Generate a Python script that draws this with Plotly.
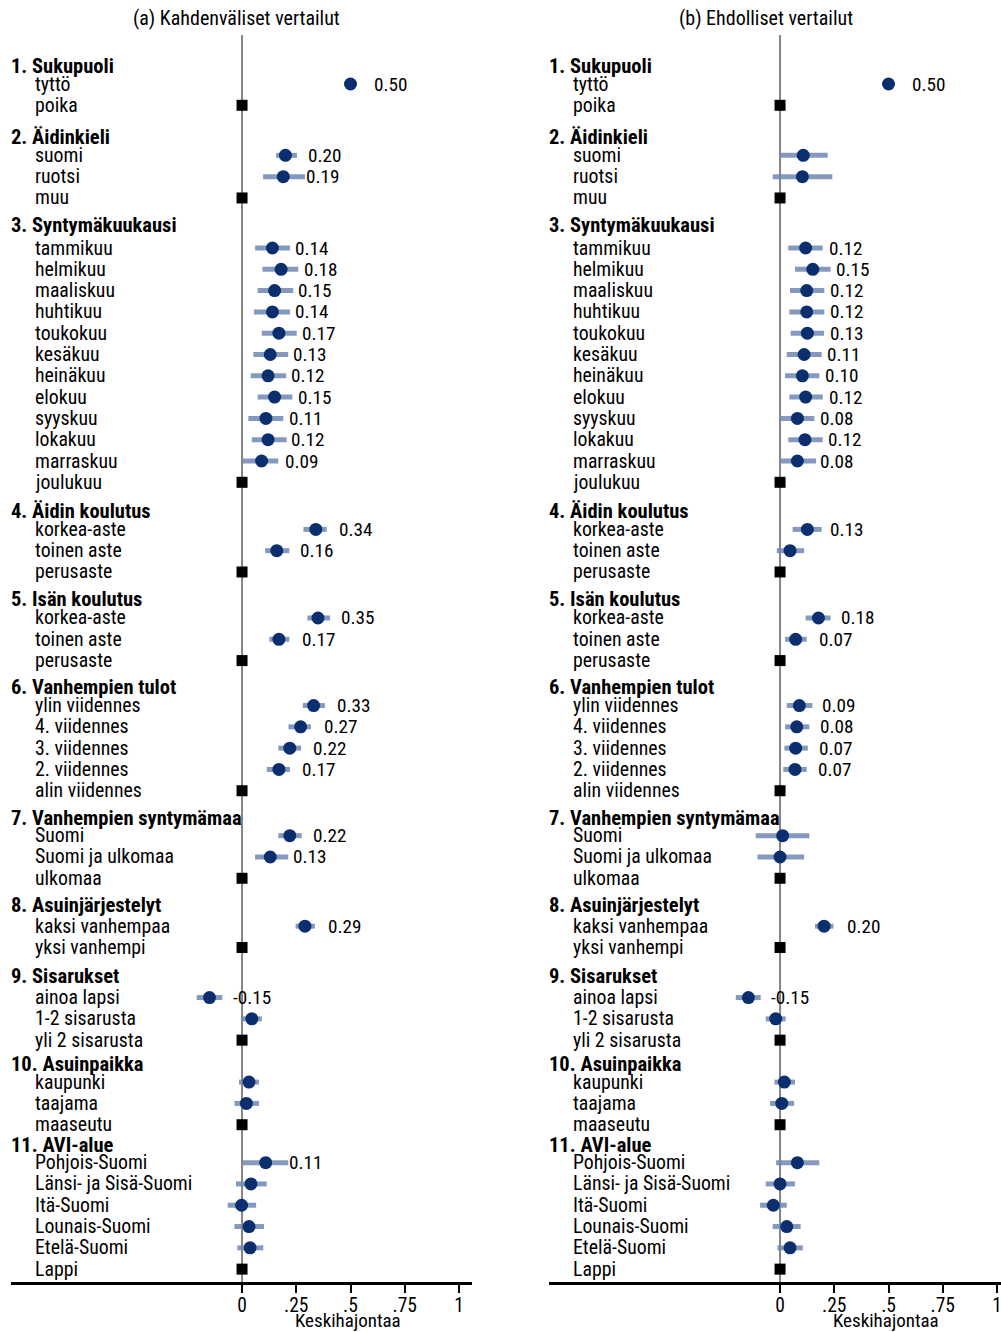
import plotly.graph_objects as go

# ---------------- data ----------------
groups = ["1. Sukupuoli", "2. Äidinkieli", "3. Syntymäkuukausi", "4. Äidin koulutus",
          "5. Isän koulutus", "6. Vanhempien tulot", "7. Vanhempien syntymämaa",
          "8. Asuinjärjestelyt", "9. Sisarukset", "10. Asuinpaikka", "11. AVI-alue"]

items = [
    ["tyttö", "poika"],
    ["suomi", "ruotsi", "muu"],
    ["tammikuu", "helmikuu", "maaliskuu", "huhtikuu", "toukokuu", "kesäkuu",
     "heinäkuu", "elokuu", "syyskuu", "lokakuu", "marraskuu", "joulukuu"],
    ["korkea-aste", "toinen aste", "perusaste"],
    ["korkea-aste", "toinen aste", "perusaste"],
    ["ylin viidennes", "4. viidennes", "3. viidennes", "2. viidennes", "alin viidennes"],
    ["Suomi", "Suomi ja ulkomaa", "ulkomaa"],
    ["kaksi vanhempaa", "yksi vanhempi"],
    ["ainoa lapsi", "1-2 sisarusta", "yli 2 sisarusta"],
    ["kaupunki", "taajama", "maaseutu"],
    ["Pohjois-Suomi", "Länsi- ja Sisä-Suomi", "Itä-Suomi", "Lounais-Suomi", "Etelä-Suomi", "Lappi"],
]

# None = reference category
est_a = [
    [0.50, None],
    [0.20, 0.19, None],
    [0.14, 0.18, 0.15, 0.14, 0.17, 0.13, 0.12, 0.15, 0.11, 0.12, 0.09, None],
    [0.34, 0.16, None],
    [0.35, 0.17, None],
    [0.33, 0.27, 0.22, 0.17, None],
    [0.22, 0.13, None],
    [0.29, None],
    [-0.15, 0.045, None],
    [0.032, 0.020, None],
    [0.109, 0.041, -0.002, 0.032, 0.037, None],
]
lo_a = [
    [0.49, None],
    [0.157, 0.097, None],
    [0.060, 0.094, 0.072, 0.055, 0.091, 0.052, 0.040, 0.072, 0.029, 0.045, 0.003, None],
    [0.283, 0.106, None],
    [0.301, 0.126, None],
    [0.280, 0.214, 0.167, 0.114, None],
    [0.167, 0.060, None],
    [0.247, None],
    [-0.209, -0.005, None],
    [-0.014, -0.035, None],
    [0.003, -0.028, -0.066, -0.035, -0.022, None],
]
hi_a = [
    [0.51, None],
    [0.253, 0.290, None],
    [0.221, 0.259, 0.236, 0.221, 0.252, 0.213, 0.203, 0.232, 0.190, 0.206, 0.167, None],
    [0.390, 0.218, None],
    [0.406, 0.218, None],
    [0.382, 0.318, 0.272, 0.221, None],
    [0.275, 0.213, None],
    [0.336, None],
    [-0.091, 0.091, None],
    [0.078, 0.078, None],
    [0.213, 0.114, 0.065, 0.101, 0.098, None],
]
lab_a = [
    ["0.50", ""],
    ["0.20", "0.19", ""],
    ["0.14", "0.18", "0.15", "0.14", "0.17", "0.13", "0.12", "0.15", "0.11", "0.12", "0.09", ""],
    ["0.34", "0.16", ""],
    ["0.35", "0.17", ""],
    ["0.33", "0.27", "0.22", "0.17", ""],
    ["0.22", "0.13", ""],
    ["0.29", ""],
    ["-0.15", "", ""],
    ["", "", ""],
    ["0.11", "", "", "", "", ""],
]

est_b = [
    [0.50, None],
    [0.107, 0.103, None],
    [0.118, 0.151, 0.123, 0.123, 0.126, 0.111, 0.103, 0.118, 0.080, 0.115, 0.080, None],
    [0.126, 0.046, None],
    [0.177, 0.072, None],
    [0.089, 0.077, 0.072, 0.069, None],
    [0.012, 0.000, None],
    [0.203, None],
    [-0.146, -0.020, None],
    [0.020, 0.008, None],
    [0.080, 0.000, -0.031, 0.031, 0.046, None],
]
lo_b = [
    [0.49, None],
    [-0.003, -0.034, None],
    [0.038, 0.069, 0.046, 0.043, 0.049, 0.031, 0.023, 0.043, 0.000, 0.038, 0.000, None],
    [0.058, -0.015, None],
    [0.118, 0.023, None],
    [0.031, 0.023, 0.020, 0.015, None],
    [-0.112, -0.104, None],
    [0.161, None],
    [-0.204, -0.066, None],
    [-0.026, -0.046, None],
    [-0.018, -0.066, -0.092, -0.034, -0.012, None],
]
hi_b = [
    [0.51, None],
    [0.220, 0.241, None],
    [0.197, 0.233, 0.204, 0.204, 0.203, 0.192, 0.181, 0.197, 0.158, 0.197, 0.166, None],
    [0.192, 0.111, None],
    [0.233, 0.123, None],
    [0.149, 0.135, 0.128, 0.123, None],
    [0.135, 0.111, None],
    [0.246, None],
    [-0.089, 0.026, None],
    [0.069, 0.065, None],
    [0.181, 0.069, 0.031, 0.095, 0.105, None],
]
lab_b = [
    ["0.50", ""],
    ["", "", ""],
    ["0.12", "0.15", "0.12", "0.12", "0.13", "0.11", "0.10", "0.12", "0.08", "0.12", "0.08", ""],
    ["0.13", "", ""],
    ["0.18", "0.07", ""],
    ["0.09", "0.08", "0.07", "0.07", ""],
    ["", "", ""],
    ["0.20", ""],
    ["-0.15", "", ""],
    ["", "", ""],
    ["", "", "", "", "", ""],
]

titles = ["(a) Kahdenväliset vertailut", "(b) Ehdolliset vertailut"]
tick_vals = [0, 0.25, 0.5, 0.75, 1]
tick_text = ["0", ".25", ".5", ".75", "1"]
axis_title = "Keskihajontaa"

# ---------------- layout parameters ----------------
W, H = 1001, 1332
ROW_PX = 21.3
TOP_PX = 84
group_gap = [2.35, 2.35, 2.21, 2.16, 2.11, 2.11, 2.25, 2.35, 1.97, 1.78]
header_off = [0.85, 0.85, 1.08, 0.85, 0.88, 0.85, 0.85, 0.99, 1.03, 0.85, 0.85]

FONT = ("Noto Sans Condensed, Roboto Condensed, Open Sans Condensed, Arial Narrow, "
        "Liberation Sans Narrow, DejaVu Sans Condensed, sans-serif")
NAVY = "#0b2e6f"
CI_COL = "rgba(112,135,180,0.85)"
FS_ITEM = 19.8
FS_HEAD = 20.5
FS_TITLE = 20
FS_VAL = 19.2
FS_TICK = 19.5

# row positions
rows = []
header_rows = []
r = 0.0
for gi, its in enumerate(items):
    if gi > 0:
        r += group_gap[gi - 1] - 1
    header_rows.append(r - header_off[gi])
    grow = []
    for _ in its:
        grow.append(r)
        r += 1
    rows.append(grow)

y_top = -TOP_PX / ROW_PX
y_bot = (H - TOP_PX) / ROW_PX
axis_px = 1283
axis_pos = 1 - axis_px / H

panels = [
    dict(est=est_a, lo=lo_a, hi=hi_a, lab=lab_a, xa="x", dom=[11 / W, 472 / W],
         rng=[-1.065, 1.060], left_px=11),
    dict(est=est_b, lo=lo_b, hi=hi_b, lab=lab_b, xa="x2", dom=[549 / W, 1.0],
         rng=[-1.065, 1.0185], left_px=549),
]

fig = go.Figure()
annotations = []
shapes = []

for pi, p in enumerate(panels):
    ci_x, ci_y, pt_x, pt_y, ref_y = [], [], [], [], []
    for gi in range(len(items)):
        for ii in range(len(items[gi])):
            e = p["est"][gi][ii]
            yy = rows[gi][ii]
            if e is None:
                ref_y.append(yy)
                continue
            ci_x += [p["lo"][gi][ii], p["hi"][gi][ii], None]
            ci_y += [yy, yy, None]
            pt_x.append(e)
            pt_y.append(yy)
            if p["lab"][gi][ii]:
                annotations.append(dict(x=e, y=yy, xref=p["xa"], yref="y", text=p["lab"][gi][ii],
                                        showarrow=False, xanchor="left", yanchor="middle",
                                        xshift=21, font=dict(family=FONT, size=FS_VAL, color="black")))
    fig.add_trace(go.Scatter(x=ci_x, y=ci_y, mode="lines", xaxis=p["xa"], yaxis="y",
                             line=dict(color=CI_COL, width=5), hoverinfo="skip", showlegend=False))
    fig.add_trace(go.Scatter(x=pt_x, y=pt_y, mode="markers", xaxis=p["xa"], yaxis="y",
                             marker=dict(color=NAVY, size=13), showlegend=False))
    fig.add_trace(go.Scatter(x=[0] * len(ref_y), y=ref_y, mode="markers", xaxis=p["xa"], yaxis="y",
                             marker=dict(color="black", size=11, symbol="square"), showlegend=False))

    # zero line
    shapes.append(dict(type="line", xref=p["xa"], yref="paper", x0=0, x1=0,
                       y0=axis_pos, y1=1 - 35 / H, line=dict(color="#858585", width=2), layer="below"))

    # category labels
    for gi, g in enumerate(groups):
        annotations.append(dict(x=(p["left_px"] - 2) / W, y=header_rows[gi], xref="paper", yref="y",
                                text="<b>" + g + "</b>", showarrow=False, xanchor="left",
                                yanchor="middle", font=dict(family=FONT, size=FS_HEAD, color="black")))
        for ii, it in enumerate(items[gi]):
            annotations.append(dict(x=(p["left_px"] + 22) / W, y=rows[gi][ii], xref="paper", yref="y",
                                    text=it, showarrow=False, xanchor="left", yanchor="middle",
                                    font=dict(family=FONT, size=FS_ITEM, color="black")))

    # title and axis title
    title_px = [236, 766][pi]
    annotations.append(dict(x=title_px / W, y=1 - 18 / H, xref="paper", yref="paper",
                            text=titles[pi], showarrow=False, xanchor="center", yanchor="middle",
                            font=dict(family=FONT, size=FS_TITLE, color="black")))
    annotations.append(dict(x=0.49, y=1 - 1320.5 / H, xref=p["xa"], yref="paper",
                            text=axis_title, showarrow=False, xanchor="center", yanchor="middle",
                            font=dict(family=FONT, size=19, color="black")))

xcommon = dict(showgrid=False, zeroline=False, showline=True, linecolor="black", linewidth=3,
               ticks="outside", ticklen=8, tickwidth=2, tickcolor="black",
               tickvals=tick_vals, ticktext=tick_text, anchor="free", position=axis_pos,
               ticklabelstandoff=-4, ticklabeloverflow="allow",
               tickfont=dict(family=FONT, size=FS_TICK, color="black"), fixedrange=True)

fig.update_layout(
    width=W, height=H,
    margin=dict(l=0, r=0, t=0, b=0),
    paper_bgcolor="white", plot_bgcolor="white",
    xaxis=dict(domain=panels[0]["dom"], range=panels[0]["rng"], **xcommon),
    xaxis2=dict(domain=panels[1]["dom"], range=panels[1]["rng"], **xcommon),
    yaxis=dict(range=[y_bot, y_top], showgrid=False, zeroline=False, showticklabels=False,
               showline=False, domain=[0, 1], fixedrange=True),
    annotations=annotations,
    shapes=shapes,
    showlegend=False,
)

fig.write_html("out.html", config={"displayModeBar": False},
               post_script="document.body.style.margin='0px';")
